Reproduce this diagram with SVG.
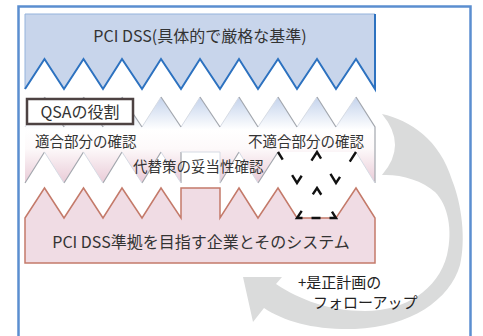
<svg xmlns="http://www.w3.org/2000/svg" width="483" height="336" viewBox="0 0 483 336">
<style>
text{font-family:"Noto Sans CJK JP","Noto Sans",sans-serif;fill:#333}
.t16{font-size:16px}
.t14{font-size:14.5px}
.fu{font-size:15px;fill:#222}
.gd{fill:none;stroke:#a3a7ae;stroke-width:1.2}
.gl{fill:none;stroke:#d6dbe4;stroke-width:1}
.dash{fill:none;stroke:#111;stroke-width:2.4}
</style>
<defs>
<linearGradient id="mid" gradientUnits="userSpaceOnUse" x1="0" y1="97" x2="0" y2="183">
<stop offset="0" stop-color="#c4d3ec"/>
<stop offset="0.38" stop-color="#ffffff"/>
<stop offset="0.6" stop-color="#fdf9fa"/>
<stop offset="1" stop-color="#e9cbd7"/>
</linearGradient>
</defs>
<rect x="0" y="0" width="483" height="336" fill="#ffffff"/>
<g id="frame">
<rect x="18.5" y="6.5" width="452" height="345" fill="none" stroke="#5b8ed0" stroke-width="2.5"/>
</g>
<g id="pci-dss">
<path d="M25,14 H375 V89 L356,59 L336,89 L317,59 L297,89 L278,59 L258,89 L239,59 L220,89 L200,59 L181,89 L161,59 L142,89 L122,59 L103,89 L83.5,59 L64,89 L44.5,59 L25,89 Z" fill="#c8d5eb" stroke="#94b3dc" stroke-width="1"/>
<path d="M25,89 L44.5,59 L64,89 L83.5,59 L103,89 L122,59 L142,89 L161,59 L181,89 L200,59 L220,89 L239,59 L258,89 L278,59 L297,89 L317,59 L336,89 L356,59 L375,89 V14" fill="none" stroke="#2d72c0" stroke-width="2"/>
<text class="t16" x="200" y="42" text-anchor="middle">PCI DSS(具体的で厳格な基準)</text>
</g>
<g id="qsa">
<path d="M25,127 L44.5,97 L64,127 L83.5,97 L103,127 L122,97 L142,127 L161,97 L181,127 L200,97 L220,127 L239,97 L258,127 L278,97 L297,127 L317,97 L336,127 L356,97 L375,127 V183 L356,152 H278 L258,183 L239,152 L220,183 V152 H181 V183 L161,152 L142,183 L122,152 L103,183 L83.5,152 L64,183 L44.5,152 L25,183 Z" fill="url(#mid)"/>
<path class="gl" d="M25,127 L44.5,97 M64,127 L83.5,97 M103,127 L122,97 M142,127 L161,97 M181,127 L200,97 M220,127 L239,97 M258,127 L278,97 M297,127 L317,97 M336,127 L356,97"/>
<path class="gd" d="M44.5,97 L64,127 M83.5,97 L103,127 M122,97 L142,127 M161,97 L181,127 M200,97 L220,127 M239,97 L258,127 M278,97 L297,127 M317,97 L336,127 M356,97 L375,127 V183"/>
<path class="gd" d="M25,183 L44.5,152 M64,183 L83.5,152 M103,183 L122,152 M142,183 L161,152 M181,183 V152 M220,183 L239,152 M258,183 L278,152"/>
<path class="gl" d="M44.5,152 L64,183 M83.5,152 L103,183 M122,152 L142,183 M161,152 L181,183 M181,152 H220 V183 M239,152 L258,183 M356,152 L375,183"/>
<path class="dash" d="M278,152 L297,183 L317,152 L336,183 L356,152" stroke-dasharray="18 18" stroke-dashoffset="9"/>
</g>
<g id="company">
<path d="M25,218 L44.5,188 L64,218 L83.5,188 L103,218 L122,188 L142,218 L161,188 L181,218 V188 H220 V218 L239,188 L258,218 L278,188 L297,218 H336 L356,188 L375,218 V263 H25 Z" fill="#f0dce4" stroke="#c47a6a" stroke-width="1.5"/>
<path class="dash" d="M317,188 L336,218 L297,218 Z" stroke-dasharray="8 20 14 9 9 9 14 20 8"/>
<text class="t16" x="201" y="248" text-anchor="middle">PCI DSS準拠を目指す企業とそのシステム</text>
</g>
<g id="qsa-label">
<rect x="27" y="99" width="106" height="25" fill="#ffffff" stroke="#4d4242" stroke-width="2.5"/>
<text class="t16" x="80" y="118" text-anchor="middle">QSAの役割</text>
</g>
<g id="labels">
<text class="t14" x="35" y="147">適合部分の確認</text>
<text class="t14" x="248" y="147">不適合部分の確認</text>
<text class="t14" x="133" y="172">代替策の妥当性確認</text>
</g>
<g id="connectors">
<path d="M382,114 C410,120 440,140 452,180 C462,205 466,240 460,265 C450,300 410,327 355,329 C315,330 285,322 264,308 L253,322 L243,277 L282,277 L276,284 C300,300 330,311 365,311 C405,311 438,290 447,255 C453,230 448,205 435,192 C422,180 400,174 382,175 Q408,145 382,114 Z" fill="#dadbdb"/>
</g>
<g id="followup">
<text class="fu" x="298" y="288">+是正計画の</text>
<text class="fu" x="313" y="308">フォローアップ</text>
</g>
</svg>
